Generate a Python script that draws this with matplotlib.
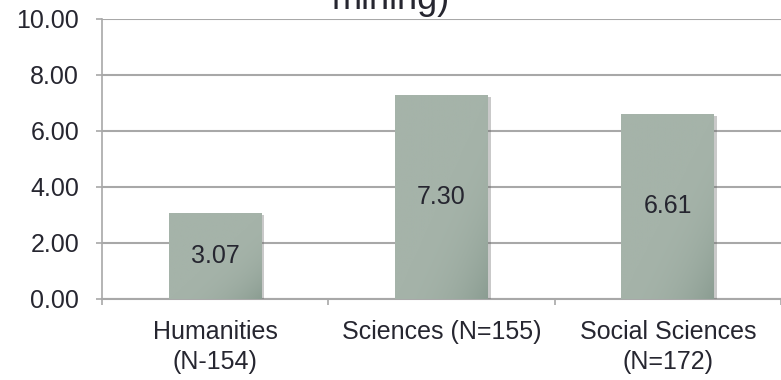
import numpy as np
import matplotlib.pyplot as plt
import matplotlib.patheffects as pe
from matplotlib.colors import LinearSegmentedColormap

categories = ["Humanities\n(N-154)", "Sciences (N=155)", "Social Sciences\n(N=172)"]
values = [3.07, 7.30, 6.61]
yticks = [0, 2, 4, 6, 8, 10]

plt.rcParams['font.family'] = ['Liberation Sans', 'DejaVu Sans']
txt = '#262630'
grid_c = '#a8a8a8'

fig = plt.figure(figsize=(7.81, 3.80), dpi=100)
ax = fig.add_axes([102/781, 1-299/380, 1-102/781, 280/380])

x = np.arange(len(values))
bars = ax.bar(x, values, width=0.41, color='#9daea3', zorder=3,
              path_effects=[pe.SimplePatchShadow(offset=(2, -1.5), shadow_rgbFace='#666666', alpha=0.35), pe.Normal()])

# soft diagonal gradient on each bar, darker to the lower right
grad = np.linspace(0, 1, 100)
gx, gy = np.meshgrid(grad, grad)
g = np.clip((gx - gy + 0.1) / 1.1, 0, 1) ** 2.5
cmap = LinearSegmentedColormap.from_list('g', ['#a5b3a9', '#8b9d92'])
for b in bars:
    x0, y0, w, h = b.get_x(), b.get_y(), b.get_width(), b.get_height()
    im = ax.imshow(g, extent=(x0, x0 + w, y0, y0 + h), origin='lower', cmap=cmap,
                   aspect='auto', zorder=3.5)
    im.set_clip_path(b)

for xi, v in zip(x, values):
    ax.text(xi, v / 2, f"{v:.2f}", ha='center', va='center', fontsize=18, color=txt, zorder=5)

ax.set_xlim(-0.5, len(values) - 0.5)
ax.set_ylim(0, 10)
ax.set_yticks(yticks)
ax.set_yticklabels([f"{t:.2f}" for t in yticks], fontsize=18, color=txt)
ax.yaxis.grid(True, color=grid_c, linewidth=1.5, zorder=0)
ax.set_axisbelow(True)

ax.set_xticks(x)
ax.set_xticklabels(categories, fontsize=18, color=txt, linespacing=1.3)
ax.tick_params(axis='x', length=0, pad=15)
ax.set_xticks(np.arange(len(values) + 1) - 0.5, minor=True)
ax.tick_params(axis='x', which='minor', length=4.5, color=grid_c, width=1.2)
ax.tick_params(axis='y', length=4.5, color=grid_c, width=1.2, pad=12)

for s in ['top', 'right']:
    ax.spines[s].set_visible(False)
ax.spines['left'].set_color(grid_c)
ax.spines['left'].set_linewidth(1.2)
ax.spines['bottom'].set_color(grid_c)
ax.spines['bottom'].set_linewidth(1.5)

fig.text(0.5, 1 - 9/380, "mining)", ha='center', va='baseline', fontsize=26, color=txt)

fig.savefig("out.png", dpi=100)
